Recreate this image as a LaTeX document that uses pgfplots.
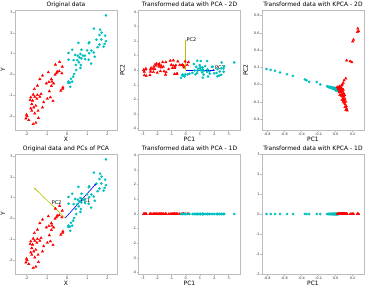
\documentclass[border=0pt]{standalone}
\usepackage{pgfplots}
\pgfplotsset{compat=1.18}
\usepackage{pgfplotstable}
\usepackage{fontspec}
\setmainfont{DejaVu Sans}
\usetikzlibrary{arrows.meta}

\definecolor{ptred}{RGB}{255,0,0}
\definecolor{ptcyan}{RGB}{0,191,191}
\definecolor{pcblue}{RGB}{0,0,255}
\definecolor{pcyellow}{RGB}{191,191,0}
\definecolor{edgegray}{RGB}{188,188,188}

% ---------- original two-class data ----------
\pgfplotstableread{
x y
1.93 2.85
1.34 2.21
1.64 2.16
1.72 2.02
1.89 1.87
1.61 1.90
1.46 1.68
1.70 1.68
1.11 1.55
1.08 1.50
0.57 1.52
1.93 1.60
1.87 1.47
1.82 1.34
1.61 1.44
1.52 1.31
0.26 1.19
0.72 1.19
1.00 1.16
1.21 1.15
1.33 1.06
1.10 1.02
0.08 1.03
0.41 0.94
0.54 0.90
0.67 0.98
0.79 0.90
0.89 0.90
0.62 0.82
0.72 0.77
0.90 0.74
0.52 0.69
0.08 0.71
0.33 0.69
1.08 0.71
1.38 0.85
1.20 0.52
0.59 0.58
0.69 0.45
0.44 0.45
0.67 0.31
0.46 0.21
0.36 0.02
0.31 -0.11
0.20 -0.21
0.08 -0.35
0.15 -0.40
0.16 -0.60
0.26 -0.35
0.07 -0.42
}\origcyan

\pgfplotstableread{
x y
-0.36 0.60
-0.57 0.47
-0.23 0.37
-0.48 0.13
-0.25 0.05
-0.38 0.15
-0.52 0.05
-0.59 -0.02
-0.92 0.10
-1.21 -0.06
-1.34 -0.23
-0.77 -0.23
-0.89 -0.37
-0.74 -0.35
-0.66 -0.44
-1.02 -0.44
-0.77 -0.56
-0.20 -0.63
-0.30 -0.79
-0.21 -0.69
-1.46 -0.55
-1.61 -0.71
-0.87 -0.82
-1.28 -0.95
-1.46 -1.00
-1.79 -1.11
-1.59 -1.08
-1.67 -0.98
-1.34 -1.08
-1.82 -1.24
-1.70 -1.27
-1.49 -1.18
-0.82 -1.11
-0.97 -1.18
-0.69 -1.29
-1.15 -1.35
-1.74 -1.44
-1.64 -1.60
-1.54 -1.52
-1.21 -1.60
-1.79 -1.65
-1.74 -1.76
-1.43 -1.76
-1.59 -1.89
-2.00 -1.95
-1.97 -2.03
-2.03 -2.13
-1.41 -2.11
-1.89 -2.21
-1.54 -2.34
-1.67 -2.40
}\origred

% ---------- PCA scores (PC1, PC2) ----------
\pgfplotstableread{
p1 p2 z
3.39 0.53 0
2.52 0.52 0
2.69 0.27 0
2.64 0.12 0
2.65 -0.11 0
2.48 0.12 0
2.22 0.08 0
2.38 -0.10 0
1.89 0.24 0
1.83 0.23 0
1.50 0.62 0
2.48 -0.32 0
2.34 -0.37 0
2.22 -0.42 0
2.15 -0.20 0
1.99 -0.22 0
1.05 0.62 0
1.36 0.28 0
1.53 0.06 0
1.66 -0.10 0
1.68 -0.25 0
1.49 -0.11 0
0.81 0.64 0
0.97 0.34 0
1.02 0.22 0
1.17 0.18 0
1.19 0.04 0
1.26 -0.04 0
1.02 0.11 0
1.05 0.00 0
1.15 -0.15 0
0.86 0.09 0
0.57 0.42 0
0.73 0.23 0
1.25 -0.31 0
1.56 -0.43 0
1.20 -0.52 0
0.82 -0.04 0
0.80 -0.20 0
0.63 -0.02 0
0.68 -0.28 0
0.47 -0.19 0
0.26 -0.25 0
0.13 -0.30 0
-0.02 -0.29 0
-0.20 -0.30 0
-0.19 -0.38 0
-0.33 -0.52 0
-0.08 -0.43 0
-0.26 -0.34 0
}\pcacyan

\pgfplotstableread{
p1 p2 z
0.19 0.55 0
-0.04 0.60 0
0.11 0.35 0
-0.23 0.36 0
-0.13 0.18 0
-0.15 0.31 0
-0.32 0.34 0
-0.42 0.35 0
-0.55 0.60 0
-0.87 0.67 0
-1.08 0.65 0
-0.69 0.33 0
-0.88 0.32 0
-0.76 0.24 0
-0.77 0.14 0
-1.01 0.36 0
-0.93 0.14 0
-0.60 -0.24 0
-0.78 -0.27 0
-0.65 -0.27 0
-1.39 0.55 0
-1.61 0.55 0
-1.19 0.06 0
-1.56 0.23 0
-1.72 0.31 0
-2.03 0.44 0
-1.87 0.34 0
-1.85 0.44 0
-1.70 0.19 0
-2.14 0.39 0
-2.08 0.30 0
-1.87 0.23 0
-1.37 -0.14 0
-1.52 -0.08 0
-1.41 -0.31 0
-1.77 -0.07 0
-2.23 0.23 0
-2.28 0.09 0
-2.16 0.07 0
-1.99 -0.18 0
-2.42 0.15 0
-2.47 0.05 0
-2.26 -0.13 0
-2.46 -0.10 0
-2.78 0.10 0
-2.82 0.05 0
-2.94 0.02 0
-2.50 -0.34 0
-2.90 -0.10 0
-2.76 -0.39 0
-2.89 -0.34 0
}\pcared

% ---------- kernel PCA scores ----------
\pgfplotstableread{
k1 k2 z
-0.81 0.18 0
-0.76 0.17 0
-0.71 0.16 0
-0.65 0.14 0
-0.57 0.12 0
-0.50 0.10 0
-0.36 0.06 0
-0.34 0.05 0
-0.31 0.03 0
-0.22 0.03 0
-0.18 0.00 0
-0.10 -0.02 0
-0.08 -0.03 0
-0.06 -0.03 0
-0.04 -0.035 0
-0.02 -0.04 0
-0.09 -0.025 0
-0.07 -0.03 0
-0.05 -0.035 0
-0.035 -0.04 0
-0.03 -0.045 0
-0.025 -0.04 0
-0.015 -0.045 0
-0.01 -0.05 0
-0.005 -0.045 0
0.00 -0.05 0
0.005 -0.055 0
0.01 -0.05 0
0.015 -0.06 0
0.02 -0.055 0
0.025 -0.065 0
0.03 -0.06 0
-0.045 -0.04 0
-0.055 -0.03 0
-0.012 -0.055 0
0.00 -0.06 0
0.008 -0.065 0
-0.02 -0.05 0
-0.028 -0.05 0
0.018 -0.07 0
-0.065 -0.035 0
-0.04 -0.045 0
0.012 -0.04 0
-0.003 -0.04 0
0.022 -0.045 0
-0.075 -0.025 0
0.035 -0.07 0
-0.017 -0.035 0
0.004 -0.07 0
0.028 -0.05 0
}\kpcacyan

\pgfplotstableread{
k1 k2 z
0.26 0.65 0
0.27 0.62 0
0.255 0.61 0
0.21 0.52 0
0.20 0.50 0
0.13 0.28 0
0.17 0.27 0
0.19 0.26 0
0.12 0.07 0
0.10 0.05 0
0.09 0.02 0
0.08 0.00 0
0.07 -0.01 0
0.05 -0.03 0
0.035 -0.04 0
0.06 -0.05 0
0.04 -0.06 0
0.075 -0.06 0
0.05 -0.07 0
0.065 -0.09 0
0.08 -0.08 0
0.095 -0.10 0
0.07 -0.11 0
0.085 -0.12 0
0.10 -0.14 0
0.08 -0.14 0
0.095 -0.16 0
0.11 -0.17 0
0.085 -0.17 0
0.10 -0.19 0
0.12 -0.20 0
0.10 -0.21 0
0.11 -0.23 0
0.125 -0.25 0
0.11 -0.26 0
0.13 -0.28 0
0.12 -0.295 0
0.135 -0.30 0
0.02 -0.03 0
0.03 -0.05 0
0.045 -0.02 0
0.055 -0.04 0
0.06 -0.08 0
0.04 -0.09 0
0.07 -0.04 0
0.09 -0.06 0
0.05 -0.12 0
0.065 -0.13 0
0.075 -0.18 0
0.09 -0.20 0
0.105 -0.12 0
}\kpcared

\pgfplotsset{
  panel/.style={
    scale only axis, width=102bp, height=120bp,
    axis line style={edgegray, line width=0.5bp},
    every tick/.style={edgegray, line width=0.4bp},
    tick align=outside, major tick length=1.6bp,
    xtick pos=bottom, ytick pos=left,
    tick label style={font=\fontsize{3.5}{4}\selectfont, text=black!80, inner sep=0.7bp},
    /pgf/number format/assume math mode=true,
    label style={font=\fontsize{6}{7}\selectfont},
    every axis title shift=0pt,
    title style={font=\fontsize{6}{7}\selectfont, at={(0.5,1.046)}, anchor=center, inner sep=0pt},
    xlabel style={at={(0.5,-0.074)}, anchor=center, inner sep=0pt},
    ylabel style={at={(-0.118,0.5)}, anchor=center, inner sep=0pt},
  },
  xyrange/.style={xmin=-2.57, xmax=2.48, ymin=-2.69, ymax=3.11,
    xtick={-2,-1,0,1,2}, ytick={-2,-1,0,1,2,3}},
  pcarange/.style={xmin=-3.3, xmax=3.83, xtick={-3,-2,-1,0,1,2,3},
    ymin=-4.1, ymax=4.12, ytick={-4,-3,-2,-1,0,1,2,3,4}},
  kpcax/.style={xmin=-0.862, xmax=0.333, xtick={-0.8,-0.6,-0.4,-0.2,0,0.2},
    xticklabel style={/pgf/number format/.cd, fixed, fixed zerofill, precision=1}},
  redpts/.style={only marks, mark=triangle*, mark size=1.4bp,
    mark options={draw=ptred, fill=ptred}},
  cyanpts/.style={only marks, mark=*, mark size=1.1bp,
    mark options={draw=ptcyan, fill=ptcyan}},
  pcarrow/.style={line width=0.6bp, -{Stealth[length=2.2bp, width=2bp]}},
}
\newcommand{\pclabel}{\fontsize{5}{6}\selectfont}

\begin{document}
\begin{tikzpicture}
\useasboundingbox (0,0) rectangle (368bp,288bp);

% top left: raw data
\begin{axis}[panel, xyrange, at={(15bp,158bp)}, anchor=south west,
  title={Original data}, xlabel={X}, ylabel={Y}]
  \addplot[redpts] table[x=x, y=y] {\origred};
  \addplot[cyanpts] table[x=x, y=y] {\origcyan};
\end{axis}

% top middle: PCA scores with principal axes
\begin{axis}[panel, pcarange, at={(138.5bp,158bp)}, anchor=south west,
  title={Transformed data with PCA - 2D}, xlabel={PC1}, ylabel={PC2},
  ylabel style={at={(-0.157,0.5)}}]
  \addplot[redpts] table[x=p1, y=p2] {\pcared};
  \addplot[cyanpts] table[x=p1, y=p2] {\pcacyan};
  \addplot[pcarrow, pcyellow] coordinates {(0,0) (0,2.1)};
  \addplot[pcarrow, pcblue] coordinates {(0,0) (2.05,0)};
  \node[anchor=west, inner sep=0.5bp, font=\pclabel] at (axis cs:0.02,2.1) {PC2};
  \node[anchor=west, inner sep=0.5bp, font=\pclabel] at (axis cs:2.0,0.14) {PC1};
\end{axis}

% top right: kernel PCA scores
\begin{axis}[panel, kpcax, at={(262bp,158bp)}, anchor=south west,
  ymin=-0.528, ymax=0.866, ytick={-0.4,-0.2,0,0.2,0.4,0.6,0.8},
  yticklabel style={/pgf/number format/.cd, fixed, fixed zerofill, precision=1},
  title={Transformed data with KPCA - 2D}, xlabel={PC1}, ylabel={PC2},
  ylabel style={at={(-0.16,0.5)}}]
  \addplot[cyanpts] table[x=k1, y=k2] {\kpcacyan};
  \addplot[redpts] table[x=k1, y=k2] {\kpcared};
\end{axis}

% bottom left: raw data with the principal directions
\begin{axis}[panel, xyrange, at={(15bp,14bp)}, anchor=south west,
  title={Original data and PCs of PCA}, xlabel={X}, ylabel={Y}]
  \addplot[redpts] table[x=x, y=y] {\origred};
  \addplot[cyanpts] table[x=x, y=y] {\origcyan};
  \addplot[pcarrow, pcyellow] coordinates {(-0.08,0.02) (-1.63,1.48)};
  \addplot[pcarrow, pcblue] coordinates {(-0.08,0.02) (1.45,1.68)};
  \node[font=\pclabel, inner sep=0pt] at (axis cs:-0.5,0.78) {PC2};
  \node[font=\pclabel, inner sep=0pt] at (axis cs:0.92,0.85) {PC1};
\end{axis}

% bottom middle: first PCA component only
\begin{axis}[panel, pcarange, at={(138.5bp,14bp)}, anchor=south west,
  ymin=-4.09, ymax=4.09,
  title={Transformed data with PCA - 1D}, xlabel={PC1}]
  \addplot[redpts] table[x=p1, y=z] {\pcared};
  \addplot[cyanpts] table[x=p1, y=z] {\pcacyan};
\end{axis}

% bottom right: first kernel PCA component only
\begin{axis}[panel, kpcax, at={(262bp,14bp)}, anchor=south west,
  ymin=-3, ymax=3, ytick={-3,-2,-1,0,1,2,3},
  title={Transformed data with KPCA - 1D}, xlabel={PC1}]
  \addplot[cyanpts] table[x=k1, y=z] {\kpcacyan};
  \addplot[redpts] table[x=k1, y=z] {\kpcared};
\end{axis}
\end{tikzpicture}
\end{document}
